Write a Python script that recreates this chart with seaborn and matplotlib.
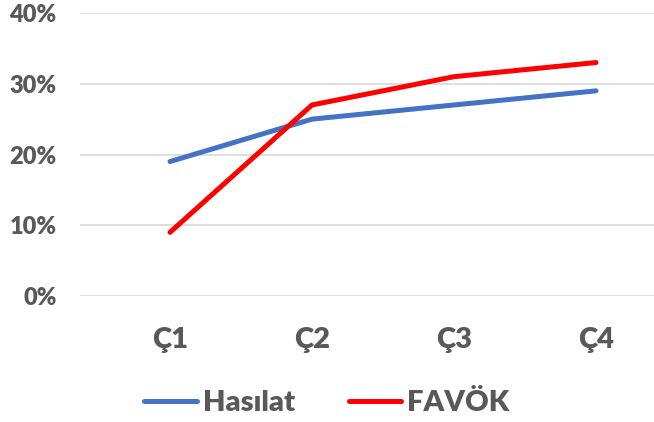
import matplotlib
matplotlib.use("Agg")
import matplotlib.pyplot as plt
import seaborn as sns
import pandas as pd
from matplotlib.ticker import FuncFormatter
from matplotlib.lines import Line2D

categories = ["Ç1", "Ç2", "Ç3", "Ç4"]
hasilat = [0.19, 0.25, 0.27, 0.29]
favok = [0.09, 0.27, 0.31, 0.33]
series_names = ["Hasılat", "FAVÖK"]
colors = ["#4472C4", "#FF0000"]
yticks = [0, 0.1, 0.2, 0.3, 0.4]

df = pd.DataFrame({
    "cat": categories * 2,
    "val": hasilat + favok,
    "series": [series_names[0]] * 4 + [series_names[1]] * 4,
})

sns.set_theme(style="white")
plt.rcParams["font.family"] = ["Lato", "DejaVu Sans"]
text_color = "#595959"
W = "heavy"

fig = plt.figure(figsize=(6.54, 4.22), dpi=100)
ax = fig.add_axes([80 / 654, 126 / 422, (654 - 80) / 654, (296 - 13) / 422])

sns.lineplot(data=df, x="cat", y="val", hue="series", palette=colors,
             linewidth=3.6, ax=ax, sort=False, legend=False)
for ln in ax.lines:
    ln.set_solid_capstyle("round")
    ln.set_solid_joinstyle("round")

ax.set_xlim(-90 / 142, 484 / 142)
ax.set_ylim(0, 0.4)
ax.set_yticks(yticks)
ax.yaxis.set_major_formatter(FuncFormatter(lambda v, p: f"{v*100:.0f}%"))
ax.grid(axis="y", color="#D9D9D9", linewidth=1.2)
ax.grid(axis="x", visible=False)
for s in ax.spines.values():
    s.set_visible(False)
ax.set_xlabel("")
ax.set_ylabel("")
ax.tick_params(axis="y", length=0, pad=17, labelsize=17, labelcolor=text_color)
ax.tick_params(axis="x", length=0, pad=22, labelsize=21, labelcolor=text_color)
for t in ax.get_xticklabels() + ax.get_yticklabels():
    t.set_fontweight(W)

handles = [Line2D([], [], color=c, linewidth=3.6, solid_capstyle="round") for c in colors]
leg = fig.legend(handles, series_names, loc="center", bbox_to_anchor=(327 / 654, 1 - 403 / 422),
                 ncol=2, frameon=False, handlelength=1.8, handletextpad=0.2,
                 columnspacing=1.85, prop={"size": 21, "weight": W})
for t in leg.get_texts():
    t.set_color(text_color)

fig.savefig("out.png", dpi=100)
